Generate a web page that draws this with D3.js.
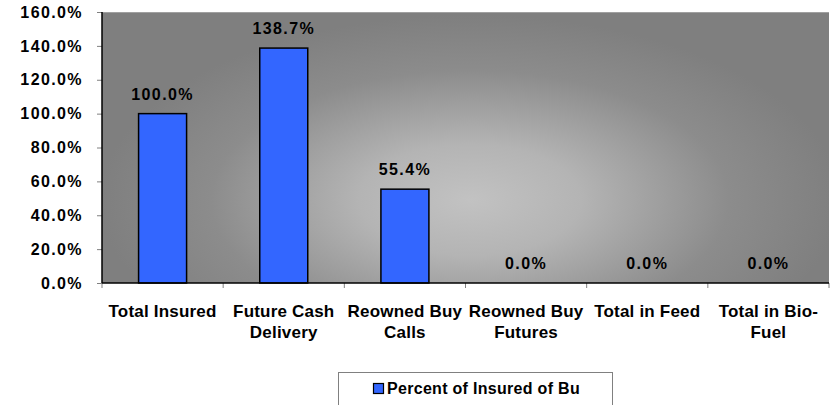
<!DOCTYPE html>
<html>
<head>
<meta charset="utf-8">
<script src="https://cdn.jsdelivr.net/npm/d3@7/dist/d3.min.js"></script>
<style>
  body { margin: 0; background: #fff; }
  svg { display: block; font-family: "Liberation Sans", Arial, sans-serif; font-weight: bold; }
</style>
</head>
<body>
<svg id="chart" width="832" height="405"></svg>
<script>
// categories and values
const categories = [
  ["Total Insured"],
  ["Future Cash", "Delivery"],
  ["Reowned Buy", "Calls"],
  ["Reowned Buy", "Futures"],
  ["Total in Feed"],
  ["Total in Bio-", "Fuel"]
];
const percentInsured = [100.0, 138.7, 55.4, 0.0, 0.0, 0.0];
const yTicks = [0, 20, 40, 60, 80, 100, 120, 140, 160];
const seriesName = "Percent of Insured of Bu";

const svg = d3.select("#chart");
const plot = { left: 102, right: 829, top: 12, bottom: 283 };

const x = d3.scaleBand()
  .domain(d3.range(categories.length))
  .range([plot.left, plot.right]);

const y = d3.scaleLinear()
  .domain([0, 160])
  .range([plot.bottom, plot.top]);

// gradient background of the plot area
const defs = svg.append("defs");
const grad = defs.append("radialGradient")
  .attr("id", "bg")
  .attr("gradientUnits", "userSpaceOnUse")
  .attr("cx", 470).attr("cy", 200)
  .attr("r", 370)
  .attr("gradientTransform", "translate(470,200) scale(1,0.5) translate(-470,-200)");
grad.append("stop").attr("offset", 0).attr("stop-color", "#c2c2c2");
grad.append("stop").attr("offset", 0.3).attr("stop-color", "#b4b4b4");
grad.append("stop").attr("offset", 0.7).attr("stop-color", "#8c8c8c");
grad.append("stop").attr("offset", 1).attr("stop-color", "#7f7f7f");

svg.append("rect")
  .attr("x", plot.left)
  .attr("y", plot.top)
  .attr("width", plot.right - plot.left)
  .attr("height", plot.bottom - plot.top)
  .attr("fill", "url(#bg)");

svg.append("line")
  .attr("x1", plot.left).attr("x2", plot.right)
  .attr("y1", plot.top + 0.5).attr("y2", plot.top + 0.5)
  .attr("stroke", "#a0a0a0");

// y axis
const yAxis = svg.append("g")
  .attr("transform", `translate(${plot.left},0)`)
  .call(d3.axisLeft(y).tickValues(yTicks).tickSize(5).tickPadding(14)
    .tickFormat(d => d.toFixed(1) + "%"));
yAxis.select(".domain").remove();
yAxis.selectAll(".tick line").attr("stroke", "#808080");
yAxis.selectAll(".tick text")
  .attr("font-size", 16)
  .attr("font-family", "Liberation Sans, Arial, sans-serif")
  .attr("font-weight", "bold")
  .attr("letter-spacing", 1.4)
  .attr("fill", "#000");

// x axis ticks at band edges
const edges = d3.range(categories.length + 1).map(i => plot.left + i * x.bandwidth());
svg.append("g").selectAll("line")
  .data(edges)
  .join("line")
  .attr("x1", d => d).attr("x2", d => d)
  .attr("y1", plot.bottom).attr("y2", plot.bottom + 5)
  .attr("stroke", "#808080");

// bars
const barW = 48;
svg.append("g").selectAll("rect")
  .data(percentInsured)
  .join("rect")
  .attr("x", (d, i) => x(i) + x.bandwidth() / 2 - barW / 2)
  .attr("y", d => y(d))
  .attr("width", barW)
  .attr("height", d => y(0) - y(d))
  .attr("fill", "#3366ff")
  .attr("stroke", "#000")
  .attr("stroke-width", 1.5);

// axis lines
svg.append("line")
  .attr("x1", plot.left).attr("x2", plot.left)
  .attr("y1", plot.top).attr("y2", plot.bottom)
  .attr("stroke", "#000").attr("stroke-width", 1.5);
svg.append("line")
  .attr("x1", plot.left).attr("x2", plot.right)
  .attr("y1", plot.bottom).attr("y2", plot.bottom)
  .attr("stroke", "#000").attr("stroke-width", 1.5);

// data labels
svg.append("g").selectAll("text")
  .data(percentInsured)
  .join("text")
  .attr("x", (d, i) => x(i) + x.bandwidth() / 2)
  .attr("y", d => y(d) - 14)
  .attr("text-anchor", "middle")
  .attr("font-size", 16)
  .attr("letter-spacing", 1.4)
  .text(d => d.toFixed(1) + "%");

// category labels
const catLabels = svg.append("g").selectAll("text")
  .data(categories)
  .join("text")
  .attr("x", (d, i) => x(i) + x.bandwidth() / 2)
  .attr("y", 317)
  .attr("text-anchor", "middle")
  .attr("font-size", 17)
  .attr("letter-spacing", 0.2);
catLabels.selectAll("tspan")
  .data(d => d)
  .join("tspan")
  .attr("x", function() { return d3.select(this.parentNode).attr("x"); })
  .attr("dy", (d, i) => i === 0 ? 0 : 21)
  .text(d => d);

// legend
const legend = svg.append("g");
legend.append("rect")
  .attr("x", 338.5).attr("y", 372.5)
  .attr("width", 274).attr("height", 40)
  .attr("fill", "#fff")
  .attr("stroke", "#808080");
legend.append("rect")
  .attr("x", 373.5).attr("y", 383.5)
  .attr("width", 10).attr("height", 10)
  .attr("fill", "#3366ff")
  .attr("stroke", "#000")
  .attr("stroke-width", 1.2);
legend.append("text")
  .attr("x", 387)
  .attr("y", 394)
  .attr("font-size", 16)
  .attr("letter-spacing", 0.3)
  .text(seriesName);
</script>
</body>
</html>
